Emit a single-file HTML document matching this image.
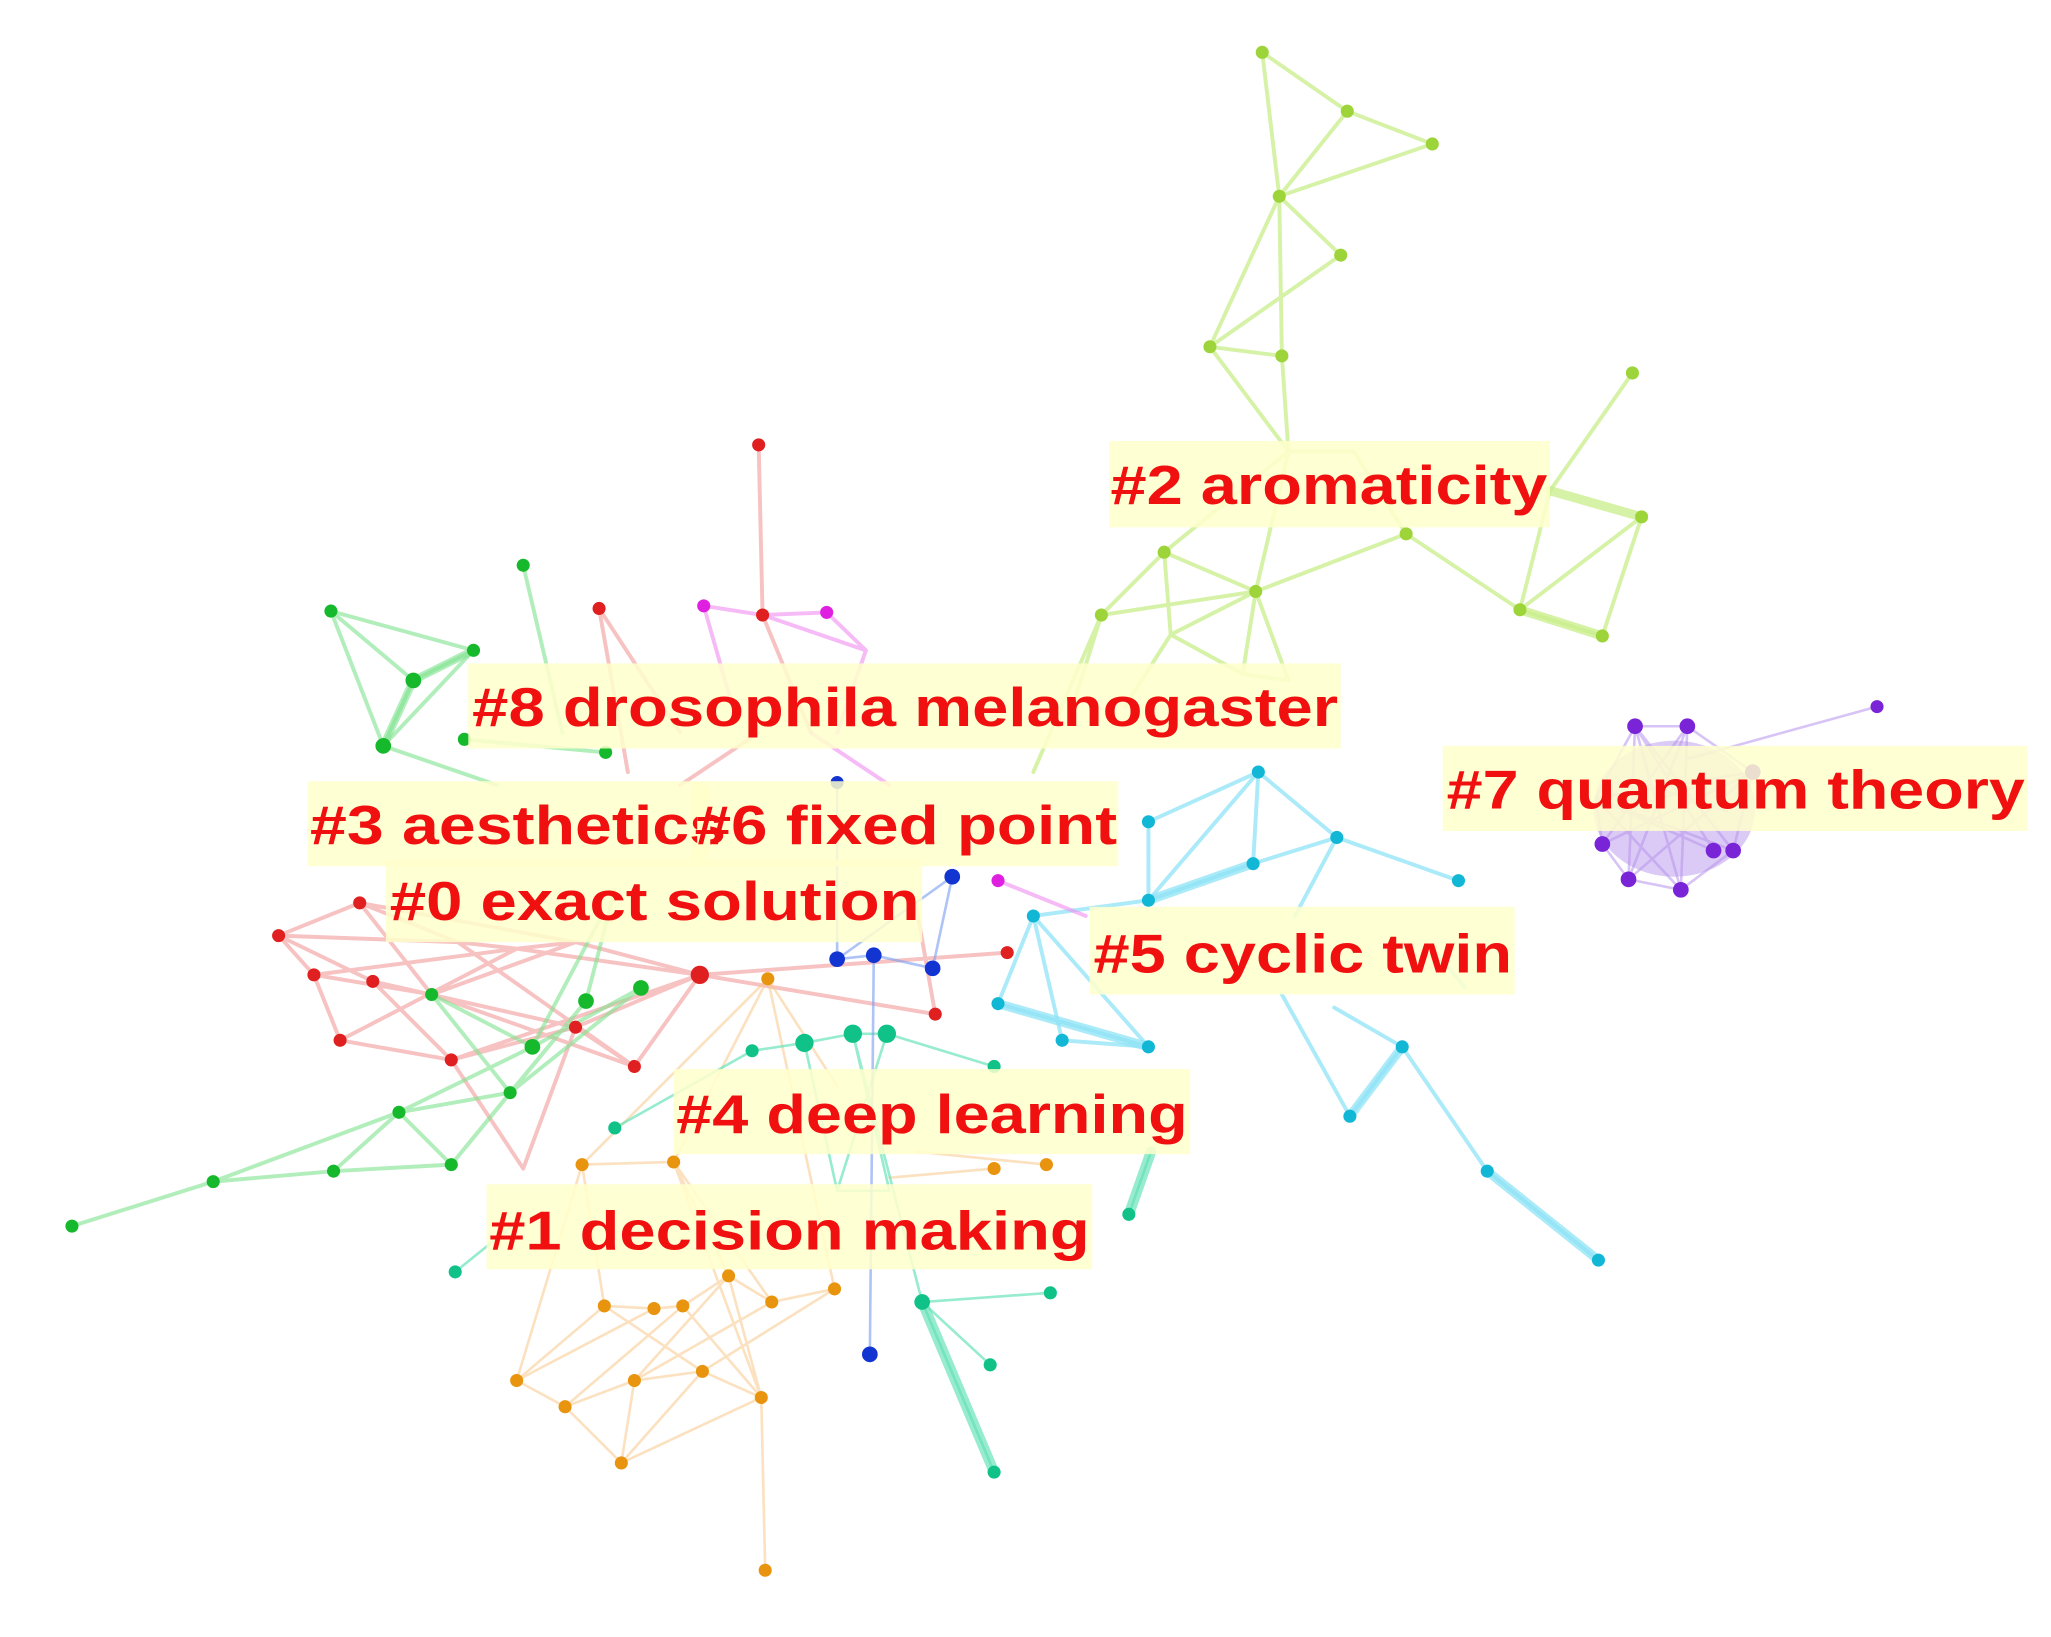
<!DOCTYPE html>
<html><head><meta charset="utf-8"><style>html,body{margin:0;padding:0;background:#fff}svg{display:block}</style></head>
<body>
<svg width="2051" height="1637" viewBox="0 0 1568 1251" preserveAspectRatio="none" xmlns="http://www.w3.org/2000/svg">
<g stroke-linecap="round" fill="none">
<g stroke="#c8ee8a" stroke-opacity="0.75" stroke-width="3">
<path d="M965,40L1030,85M965,40L978,150M1030,85L1095,110M1030,85L978,150M1095,110L978,150M978,150L1025,195M978,150L925,265M978,150L980,272M1025,195L925,265M925,265L980,272M925,265L985,345M980,272L985,345M985,345L1035,345M1248,285L1185,375M1185,375L1162,466M1162,466L1255,395M1255,395L1225,486M1162,466L1225,486M1075,408L960,452M1075,408L1035,345M1075,408L1162,466M960,452L890,422M960,452L842,470M890,422L842,470M960,452L895,485M960,452L985,520M890,422L895,485M842,470L790,590M895,485L950,515M950,515L985,520M890,422L985,345M960,452L985,345M842,470L820,540M895,485L860,540M950,515L960,452"/>
<path d="M1162,466L1225,486M1185,375L1255,395" stroke-width="7"/>
</g>
<g stroke="#a77ae8" stroke-opacity="0.45" stroke-width="2">
<path d="M1250,555L1290,555L1340,590L1325,650L1285,680L1245,672L1225,645L1220,610Z M1250,555L1325,650M1250,555L1285,680M1250,555L1245,672M1290,555L1225,645M1290,555L1245,672M1290,555L1285,680M1220,610L1340,590M1220,610L1325,650M1220,610L1285,680M1340,590L1245,672M1340,590L1225,645M1310,650L1220,610M1310,650L1250,555M1435,540L1290,580M1260,600L1320,620M1240,620L1300,600"/>
</g>
<ellipse cx="1280" cy="618" rx="62" ry="52" fill="#b896ec" fill-opacity="0.5" stroke="none"/>
<g stroke="#8fe3f5" stroke-opacity="0.75" stroke-width="3">
<path d="M962,590L878,628M962,590L1022,640M962,590L958,660M962,590L878,688M878,628L878,688M1022,640L958,660M1022,640L1115,673M958,660L878,688M878,688L790,700M1022,640L990,700M790,700L763,767M790,700L812,795M763,767L878,800M812,795L878,800M878,800L790,700M1120,755L1100,730M1072,800L1032,853M1032,853L980,760M1072,800L1137,895M1137,895L1222,963M1072,800L1020,770"/>
<path d="M763,767L878,800M1072,800L1032,853M1137,895L1222,963M878,688L958,660" stroke-width="7"/>
</g>
<g stroke="#f29a9a" stroke-opacity="0.6" stroke-width="3">
<path d="M213,715L240,745L260,795L345,810L440,785L485,815L535,745L440,720L395,725L350,720L275,690Z M213,715L285,750M213,715L350,720M240,745L330,760M240,745L395,725M275,690L330,760M275,690L440,720M285,750L345,810M285,750L440,785M330,760L440,720M330,760L485,815M345,810L535,745M350,720L485,815M395,725L535,745M440,785L535,745M260,795L395,725M580,340L583,470M583,470L620,560M458,465L520,560M458,465L480,590M535,745L715,775M535,745L770,728M400,893L345,810M400,893L440,785M715,775L700,690M580,560L520,600"/>
</g>
<g stroke="#f08ef0" stroke-opacity="0.6" stroke-width="3">
<path d="M538,463L583,470L632,468M538,463L560,540M583,470L662,497M632,468L662,497M662,497L640,560M763,673L830,700M620,560L680,600"/>
</g>
<g stroke="#7ee28e" stroke-opacity="0.6" stroke-width="3">
<path d="M253,467L362,497M253,467L316,520M253,467L293,570M362,497L316,520M362,497L293,570M316,520L293,570M400,432L430,560M293,570L380,600M355,565L463,575M330,760L407,800M390,835L448,765M407,800L490,755M305,850L390,835M305,850L407,800M345,890L390,835M345,890L305,850M255,895L345,890M255,895L305,850M163,903L255,895M163,903L305,850M55,937L163,903M345,890L448,765M390,835L490,755M330,760L390,835M448,765L470,680M407,800L460,700"/>
<path d="M316,520L362,497M293,570L316,520" stroke-width="6"/>
</g>
<g stroke="#f7c98a" stroke-opacity="0.55" stroke-width="2">
<path d="M587,748L445,890M587,748L515,888M587,748L638,985M587,748L640,830M445,890L515,888M445,890L462,998M515,888L557,975M515,888L590,995M462,998L500,1000L522,998L557,975L590,995L638,985M395,1055L432,1075L485,1055L537,1048L582,1068L475,1118L432,1075M395,1055L462,998M395,1055L500,1000M432,1075L522,998M485,1055L557,975M485,1055L590,995M537,1048L462,998M537,1048L638,985M582,1068L522,998M582,1068L557,975M475,1118L485,1055M475,1118L537,1048M585,1200L582,1068M760,893L680,900M800,890L700,880M445,890L395,1055M515,888L582,1068"/>
</g>
<g stroke="#5fe0b4" stroke-opacity="0.65" stroke-width="2">
<path d="M575,803L615,797L652,790L678,790L760,815M615,797L640,910M652,790L680,910M678,790L640,910M652,790L705,995M470,862L575,803M348,972L400,930M705,995L803,988M705,995L757,1043M705,995L760,1125M863,928L880,880M640,910L680,910"/>
<path d="M705,995L760,1125M863,928L880,880" stroke-width="8"/>
</g>
<g stroke="#7a9cf0" stroke-opacity="0.6" stroke-width="2">
<path d="M728,670L640,733M640,733L668,730L713,740M668,730L665,1035M640,598L640,733M728,670L713,740"/>
</g>
</g>
<g fill="#9dd43a">
<circle cx="965" cy="40" r="5"/><circle cx="1030" cy="85" r="5"/><circle cx="1095" cy="110" r="5"/><circle cx="978" cy="150" r="5"/><circle cx="1025" cy="195" r="5"/><circle cx="925" cy="265" r="5"/><circle cx="980" cy="272" r="5"/><circle cx="1248" cy="285" r="5"/><circle cx="1255" cy="395" r="5"/><circle cx="1075" cy="408" r="5"/><circle cx="960" cy="452" r="5"/><circle cx="890" cy="422" r="5"/><circle cx="1162" cy="466" r="5"/><circle cx="1225" cy="486" r="5"/><circle cx="842" cy="470" r="5"/>
</g>
<g fill="#7a24d8">
<circle cx="1250" cy="555" r="6"/><circle cx="1290" cy="555" r="6"/><circle cx="1340" cy="590" r="6"/><circle cx="1325" cy="650" r="6"/><circle cx="1285" cy="680" r="6"/><circle cx="1245" cy="672" r="6"/><circle cx="1225" cy="645" r="6"/><circle cx="1310" cy="650" r="6"/><circle cx="1435" cy="540" r="5"/>
</g>
<g fill="#12b7d6">
<circle cx="962" cy="590" r="5"/><circle cx="878" cy="628" r="5"/><circle cx="1022" cy="640" r="5"/><circle cx="958" cy="660" r="5"/><circle cx="878" cy="688" r="5"/><circle cx="790" cy="700" r="5"/><circle cx="1115" cy="673" r="5"/><circle cx="763" cy="767" r="5"/><circle cx="812" cy="795" r="5"/><circle cx="878" cy="800" r="5"/><circle cx="1072" cy="800" r="5"/><circle cx="1032" cy="853" r="5"/><circle cx="1137" cy="895" r="5"/><circle cx="1222" cy="963" r="5"/>
</g>
<g fill="#e02020">
<circle cx="213" cy="715" r="5"/><circle cx="240" cy="745" r="5"/><circle cx="260" cy="795" r="5"/><circle cx="275" cy="690" r="5"/><circle cx="285" cy="750" r="5"/><circle cx="345" cy="810" r="5"/><circle cx="440" cy="785" r="5"/><circle cx="485" cy="815" r="5"/><circle cx="535" cy="745" r="7"/><circle cx="580" cy="340" r="5"/><circle cx="583" cy="470" r="5"/><circle cx="458" cy="465" r="5"/><circle cx="715" cy="775" r="5"/><circle cx="770" cy="728" r="5"/>
</g>
<g fill="#e020e0"><circle cx="538" cy="463" r="5"/><circle cx="632" cy="468" r="5"/><circle cx="763" cy="673" r="5"/></g>
<g fill="#16b82c">
<circle cx="253" cy="467" r="5"/><circle cx="400" cy="432" r="5"/><circle cx="362" cy="497" r="5"/><circle cx="316" cy="520" r="6"/><circle cx="293" cy="570" r="6"/><circle cx="355" cy="565" r="5"/><circle cx="463" cy="575" r="5"/><circle cx="330" cy="760" r="5"/><circle cx="390" cy="835" r="5"/><circle cx="407" cy="800" r="6"/><circle cx="448" cy="765" r="6"/><circle cx="490" cy="755" r="6"/><circle cx="305" cy="850" r="5"/><circle cx="345" cy="890" r="5"/><circle cx="255" cy="895" r="5"/><circle cx="163" cy="903" r="5"/><circle cx="55" cy="937" r="5"/>
</g>
<g fill="#e8940e">
<circle cx="587" cy="748" r="5"/><circle cx="445" cy="890" r="5"/><circle cx="515" cy="888" r="5"/><circle cx="462" cy="998" r="5"/><circle cx="500" cy="1000" r="5"/><circle cx="522" cy="998" r="5"/><circle cx="557" cy="975" r="5"/><circle cx="590" cy="995" r="5"/><circle cx="638" cy="985" r="5"/><circle cx="395" cy="1055" r="5"/><circle cx="432" cy="1075" r="5"/><circle cx="485" cy="1055" r="5"/><circle cx="537" cy="1048" r="5"/><circle cx="582" cy="1068" r="5"/><circle cx="475" cy="1118" r="5"/><circle cx="585" cy="1200" r="5"/><circle cx="760" cy="893" r="5"/><circle cx="800" cy="890" r="5"/>
</g>
<g fill="#10c288">
<circle cx="575" cy="803" r="5"/><circle cx="615" cy="797" r="7"/><circle cx="652" cy="790" r="7"/><circle cx="678" cy="790" r="7"/><circle cx="760" cy="815" r="5"/><circle cx="470" cy="862" r="5"/><circle cx="348" cy="972" r="5"/><circle cx="705" cy="995" r="6"/><circle cx="803" cy="988" r="5"/><circle cx="863" cy="928" r="5"/><circle cx="757" cy="1043" r="5"/><circle cx="760" cy="1125" r="5"/>
</g>
<g fill="#1234d0"><circle cx="728" cy="670" r="6"/><circle cx="640" cy="733" r="6"/><circle cx="668" cy="730" r="6"/><circle cx="713" cy="740" r="6"/><circle cx="665" cy="1035" r="6"/><circle cx="640" cy="598" r="5"/></g>
<g fill="#ffffcc" fill-opacity="0.85">
<rect x="848" y="337" width="337" height="66"/>
<rect x="358" y="507" width="667" height="65"/>
<rect x="235" y="597" width="305" height="65"/>
<rect x="528" y="597" width="327" height="65"/>
<rect x="295" y="657" width="410" height="63"/>
<rect x="1103" y="570" width="447" height="65"/>
<rect x="833" y="693" width="325" height="67"/>
<rect x="515" y="817" width="395" height="65"/>
<rect x="372" y="905" width="463" height="65"/>
</g>
<g fill="#f01010" font-family="Liberation Sans, sans-serif" font-weight="bold" font-size="42">
<text x="849" y="385" textLength="334" lengthAdjust="spacingAndGlyphs">#2 aromaticity</text>
<text x="361" y="555" textLength="662" lengthAdjust="spacingAndGlyphs">#8 drosophila melanogaster</text>
<text x="237" y="645" textLength="318" lengthAdjust="spacingAndGlyphs">#3 aesthetics</text>
<rect x="533" y="603" width="10" height="50" fill="#ffffcc"/>
<text x="531" y="645" textLength="323" lengthAdjust="spacingAndGlyphs">#6 fixed point</text>
<text x="298" y="703" textLength="405" lengthAdjust="spacingAndGlyphs">#0 exact solution</text>
<text x="1106" y="618" textLength="442" lengthAdjust="spacingAndGlyphs">#7 quantum theory</text>
<text x="836" y="743" textLength="320" lengthAdjust="spacingAndGlyphs">#5 cyclic twin</text>
<text x="517" y="866" textLength="391" lengthAdjust="spacingAndGlyphs">#4 deep learning</text>
<text x="374" y="955" textLength="459" lengthAdjust="spacingAndGlyphs">#1 decision making</text>
</g>
</svg>
</body></html>
